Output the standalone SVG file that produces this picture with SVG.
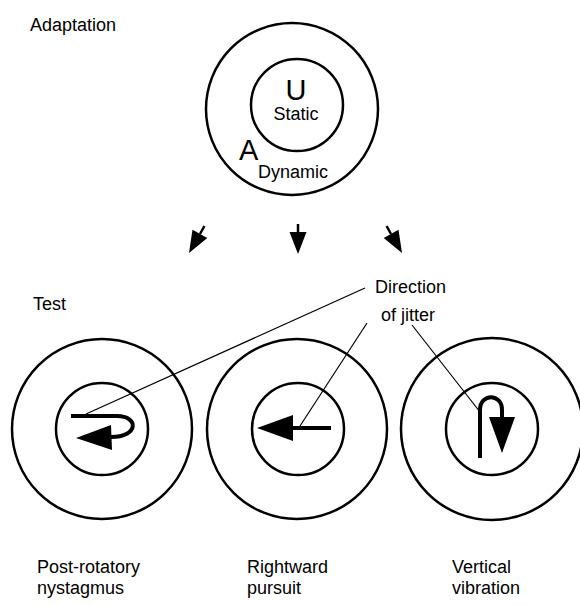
<svg xmlns="http://www.w3.org/2000/svg" width="580" height="605" viewBox="0 0 580 605">
<style>
text{font-family:"Liberation Sans",Arial,sans-serif;font-size:18px;fill:#000}
.big{font-size:29px}
.ring{fill:none;stroke:#000;stroke-width:2.5}
.ptr{fill:none;stroke:#000;stroke-width:1.2}
.bar{fill:none;stroke:#000;stroke-width:4}
.stub{fill:none;stroke:#000;stroke-width:2.5}
.head{fill:#000;stroke:none}
</style>
<rect width="580" height="605" fill="#fff"/>
<text x="30" y="31">Adaptation</text>
<text x="33" y="310">Test</text>
<g id="adaptation">
<circle class="ring" cx="292" cy="109" r="86"/>
<circle class="ring" cx="297" cy="105" r="46"/>
<text class="big" x="296" y="100" text-anchor="middle">U</text>
<text x="296" y="120" text-anchor="middle">Static</text>
<text class="big" x="239" y="160">A</text>
<text x="258" y="178">Dynamic</text>
</g>
<g id="arrows">
<line class="stub" x1="204.4" y1="226" x2="200" y2="234"/>
<polygon class="head" points="189,253 207.3,238.1 192.5,229.7"/>
<line class="stub" x1="298" y1="224" x2="298" y2="233"/>
<polygon class="head" points="298,254 306.5,232 289.5,232"/>
<line class="stub" x1="386.6" y1="226" x2="391" y2="234"/>
<polygon class="head" points="402,253 383.7,238.1 398.5,229.7"/>
</g>
<g id="post-rotatory">
<circle class="ring" cx="102" cy="429" r="90"/>
<circle class="ring" cx="102" cy="429" r="46"/>
<path class="bar" d="M71,416 H117 C139,416 139,437 111,437"/>
<polygon class="head" points="76,438 111,425 112,450"/>
<text x="37" y="573">Post-rotatory</text>
<text x="37" y="594">nystagmus</text>
</g>
<g id="rightward">
<circle class="ring" cx="297" cy="429" r="90"/>
<circle class="ring" cx="298" cy="429" r="46"/>
<path class="bar" d="M331,428 H290"/>
<polygon class="head" points="257,428 293,415 293,441"/>
<text x="247" y="573">Rightward</text>
<text x="247" y="594">pursuit</text>
</g>
<g id="vertical">
<circle class="ring" cx="492" cy="429" r="91"/>
<circle class="ring" cx="492" cy="429" r="46"/>
<path class="bar" d="M480,458 V410 C480,393 502,393 502,410 V420"/>
<polygon class="head" points="502,453 489,417 515,417"/>
<text x="452" y="573">Vertical</text>
<text x="452" y="594">vibration</text>
</g>
<g id="direction-label">
<text x="375" y="293">Direction</text>
<text x="381" y="321">of jitter</text>
</g>
<g id="connectors">
<line class="ptr" x1="86" y1="414" x2="365" y2="288"/>
<line class="ptr" x1="300" y1="426" x2="367" y2="323"/>
<line class="ptr" x1="412" y1="325" x2="480" y2="412"/>
</g>
</svg>
